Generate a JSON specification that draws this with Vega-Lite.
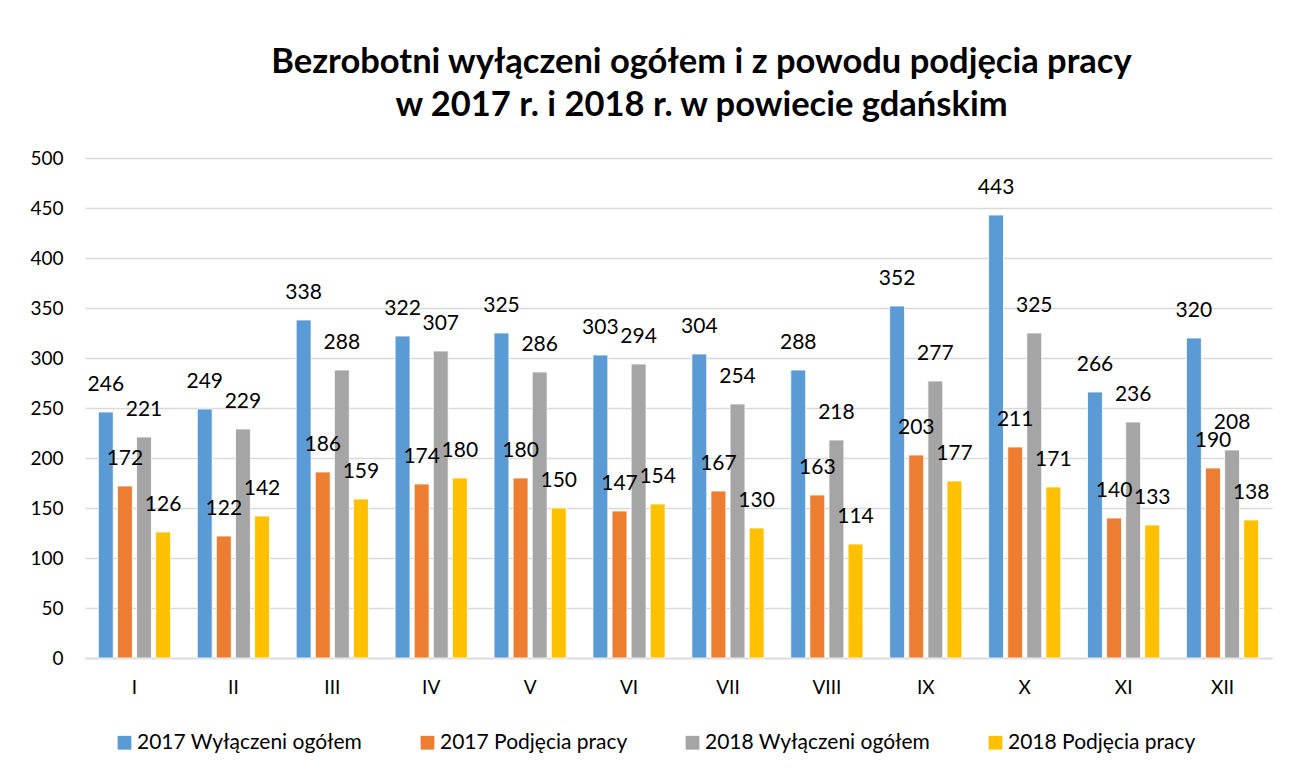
{
  "$schema": "https://vega.github.io/schema/vega-lite/v6.json",
  "width": 1187,
  "height": 500,
  "autosize": {"type": "none"},
  "padding": {"left": 85, "top": 158, "right": 18, "bottom": 116},
  "background": "white",
  "title": {
    "text": ["Bezrobotni wyłączeni ogółem i z powodu podjęcia pracy", "w 2017 r. i 2018 r. w powiecie gdańskim"],
    "font": "Lato",
    "fontSize": 34.5,
    "fontWeight": "bold",
    "color": "#000000",
    "lineHeight": 43,
    "anchor": "middle",
    "frame": "group",
    "dx": 23,
    "offset": 26
  },
  "data": {
    "values": [
      {"m": "I", "s": "2017 Wyłączeni ogółem", "v": 246},
      {"m": "I", "s": "2017 Podjęcia pracy", "v": 172},
      {"m": "I", "s": "2018 Wyłączeni ogółem", "v": 221},
      {"m": "I", "s": "2018 Podjęcia pracy", "v": 126},
      {"m": "II", "s": "2017 Wyłączeni ogółem", "v": 249},
      {"m": "II", "s": "2017 Podjęcia pracy", "v": 122},
      {"m": "II", "s": "2018 Wyłączeni ogółem", "v": 229},
      {"m": "II", "s": "2018 Podjęcia pracy", "v": 142},
      {"m": "III", "s": "2017 Wyłączeni ogółem", "v": 338},
      {"m": "III", "s": "2017 Podjęcia pracy", "v": 186},
      {"m": "III", "s": "2018 Wyłączeni ogółem", "v": 288},
      {"m": "III", "s": "2018 Podjęcia pracy", "v": 159},
      {"m": "IV", "s": "2017 Wyłączeni ogółem", "v": 322},
      {"m": "IV", "s": "2017 Podjęcia pracy", "v": 174},
      {"m": "IV", "s": "2018 Wyłączeni ogółem", "v": 307},
      {"m": "IV", "s": "2018 Podjęcia pracy", "v": 180},
      {"m": "V", "s": "2017 Wyłączeni ogółem", "v": 325},
      {"m": "V", "s": "2017 Podjęcia pracy", "v": 180},
      {"m": "V", "s": "2018 Wyłączeni ogółem", "v": 286},
      {"m": "V", "s": "2018 Podjęcia pracy", "v": 150},
      {"m": "VI", "s": "2017 Wyłączeni ogółem", "v": 303},
      {"m": "VI", "s": "2017 Podjęcia pracy", "v": 147},
      {"m": "VI", "s": "2018 Wyłączeni ogółem", "v": 294},
      {"m": "VI", "s": "2018 Podjęcia pracy", "v": 154},
      {"m": "VII", "s": "2017 Wyłączeni ogółem", "v": 304},
      {"m": "VII", "s": "2017 Podjęcia pracy", "v": 167},
      {"m": "VII", "s": "2018 Wyłączeni ogółem", "v": 254},
      {"m": "VII", "s": "2018 Podjęcia pracy", "v": 130},
      {"m": "VIII", "s": "2017 Wyłączeni ogółem", "v": 288},
      {"m": "VIII", "s": "2017 Podjęcia pracy", "v": 163},
      {"m": "VIII", "s": "2018 Wyłączeni ogółem", "v": 218},
      {"m": "VIII", "s": "2018 Podjęcia pracy", "v": 114},
      {"m": "IX", "s": "2017 Wyłączeni ogółem", "v": 352},
      {"m": "IX", "s": "2017 Podjęcia pracy", "v": 203},
      {"m": "IX", "s": "2018 Wyłączeni ogółem", "v": 277},
      {"m": "IX", "s": "2018 Podjęcia pracy", "v": 177},
      {"m": "X", "s": "2017 Wyłączeni ogółem", "v": 443},
      {"m": "X", "s": "2017 Podjęcia pracy", "v": 211},
      {"m": "X", "s": "2018 Wyłączeni ogółem", "v": 325},
      {"m": "X", "s": "2018 Podjęcia pracy", "v": 171},
      {"m": "XI", "s": "2017 Wyłączeni ogółem", "v": 266},
      {"m": "XI", "s": "2017 Podjęcia pracy", "v": 140},
      {"m": "XI", "s": "2018 Wyłączeni ogółem", "v": 236},
      {"m": "XI", "s": "2018 Podjęcia pracy", "v": 133},
      {"m": "XII", "s": "2017 Wyłączeni ogółem", "v": 320},
      {"m": "XII", "s": "2017 Podjęcia pracy", "v": 190},
      {"m": "XII", "s": "2018 Wyłączeni ogółem", "v": 208},
      {"m": "XII", "s": "2018 Podjęcia pracy", "v": 138}
    ]
  },
  "encoding": {
    "x": {
      "field": "m",
      "type": "nominal",
      "sort": null,
      "title": null,
      "scale": {"paddingInner": 0.27, "paddingOuter": 0.135},
      "axis": {
        "labelAngle": 0,
        "labelFont": "Lato",
        "labelFontSize": 19,
        "labelColor": "#000000",
        "labelPadding": 20,
        "ticks": false,
        "domainColor": "#d9d9d9",
        "domainWidth": 1.5,
        "grid": false
      }
    },
    "xOffset": {
      "field": "s",
      "type": "nominal",
      "sort": null,
      "scale": {"paddingInner": 0.22, "paddingOuter": 0}
    },
    "y": {
      "field": "v",
      "type": "quantitative",
      "title": null,
      "scale": {"domain": [0, 500], "nice": false},
      "axis": {
        "values": [0, 50, 100, 150, 200, 250, 300, 350, 400, 450, 500],
        "labelFont": "Lato",
        "labelFontSize": 19,
        "labelColor": "#000000",
        "labelPadding": 22,
        "ticks": false,
        "domain": false,
        "gridColor": "#d9d9d9",
        "gridWidth": 1.5
      }
    }
  },
  "layer": [
    {
      "mark": {"type": "bar", "stroke": "white", "strokeWidth": 0.8},
      "encoding": {
        "color": {
          "field": "s",
          "type": "nominal",
          "sort": null,
          "scale": {
            "domain": ["2017 Wyłączeni ogółem", "2017 Podjęcia pracy", "2018 Wyłączeni ogółem", "2018 Podjęcia pracy"],
            "range": ["#5B9BD5", "#ED7D31", "#A5A5A5", "#FFC000"]
          },
          "legend": {
            "title": null,
            "orient": "none",
            "legendX": 29,
            "legendY": 574,
            "direction": "horizontal",
            "columns": 4,
            "symbolType": "square",
            "symbolSize": 190,
            "symbolStrokeWidth": 0,
            "labelFont": "Lato",
            "labelFontSize": 21,
            "labelLimit": 0,
            "labelColor": "#000000",
            "labelOffset": 2,
            "columnPadding": 54
          }
        }
      }
    },
    {
      "mark": {"type": "text", "baseline": "bottom", "dy": -17, "font": "Lato", "fontSize": 21, "color": "#000000"},
      "encoding": {
        "text": {"field": "v", "type": "quantitative"}
      }
    }
  ],
  "config": {
    "view": {"stroke": null}
  }
}
